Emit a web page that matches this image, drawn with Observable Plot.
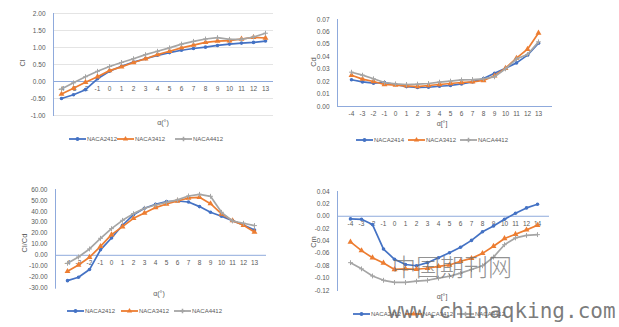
<!DOCTYPE html>
<html><head><meta charset="utf-8">
<script src="https://cdn.jsdelivr.net/npm/d3@7"></script>
<script src="https://cdn.jsdelivr.net/npm/@observablehq/plot@0.6"></script>
<style>
body{margin:0;background:#fff;}
#root{position:relative;width:619px;height:327px;overflow:hidden;background:#fff;font-family:"Liberation Sans",Arial,sans-serif;color:#595959;}
.abs{position:absolute;white-space:nowrap;}
.ytitle{position:absolute;font-size:7.5px;color:#595959;transform:translate(-50%,-50%) rotate(-90deg);white-space:nowrap;}
.xtitle{position:absolute;font-size:7px;color:#595959;transform:translate(-50%,-50%);white-space:nowrap;}
.leg{position:absolute;display:flex;align-items:center;font-size:6px;color:#595959;transform:translateY(-50%);}
.leg svg{display:block;margin-right:1px;}
</style>
</head><body><div id="root"></div>
<script>
// ---- data ----
const alpha = [-4,-3,-2,-1,0,1,2,3,4,5,6,7,8,9,10,11,12,13];
const alphaLabelsCm = ["-4","-3","-2","-1","0","1","2","3","4","5","6","7","8","9","10","11","12","14"];
const namesA = ["NACA2412","NACA3412","NACA4412"];
const namesCd = ["NACA2414","NACA3412","NACA4412"];

const cl2412 = [-0.50,-0.39,-0.24,0.08,0.30,0.45,0.57,0.67,0.77,0.85,0.92,0.97,1.01,1.06,1.10,1.13,1.15,1.19];
const cl3412 = [-0.37,-0.20,-0.02,0.14,0.32,0.43,0.56,0.67,0.79,0.89,0.99,1.07,1.15,1.19,1.20,1.25,1.30,1.28];
const cl4412 = [-0.22,-0.04,0.14,0.30,0.44,0.56,0.67,0.79,0.89,0.99,1.10,1.18,1.25,1.29,1.24,1.24,1.31,1.42];

const cd2414 = [0.0215,0.0198,0.0188,0.0193,0.0177,0.0160,0.0153,0.0155,0.0163,0.0169,0.0182,0.0198,0.0225,0.0268,0.0308,0.0351,0.0413,0.0509];
const cd3412 = [0.0252,0.0220,0.0201,0.0177,0.0172,0.0166,0.0160,0.0169,0.0177,0.0185,0.0193,0.0198,0.0209,0.0247,0.0308,0.0389,0.0461,0.0592];
const cd4412 = [0.0276,0.0252,0.0223,0.0193,0.0182,0.0177,0.0180,0.0185,0.0196,0.0204,0.0214,0.0217,0.0223,0.0239,0.0303,0.0383,0.0418,0.0520];

const ld2412 = [-23.1,-20.0,-13.0,5.0,15.8,27.4,37.0,42.9,46.5,49.0,49.5,48.6,44.4,39.2,35.6,31.6,27.7,23.1];
const ld3412 = [-14.6,-8.8,-1.8,8.2,18.8,26.1,33.7,38.6,43.5,46.8,49.5,52.3,52.9,47.1,37.7,31.6,27.4,21.3];
const ld4412 = [-7.3,-1.5,5.8,15.5,24.3,31.9,38.0,42.9,45.9,48.3,50.5,54.1,55.6,53.8,39.2,31.3,29.2,27.1];

const cm2412 = [-0.0043,-0.0049,-0.0135,-0.053,-0.0695,-0.078,-0.080,-0.075,-0.067,-0.059,-0.050,-0.039,-0.025,-0.0156,-0.0049,0.0049,0.0135,0.0194];
const cm3412 = [-0.0415,-0.0555,-0.067,-0.0755,-0.086,-0.085,-0.0857,-0.084,-0.081,-0.0787,-0.0728,-0.068,-0.060,-0.0485,-0.036,-0.029,-0.022,-0.0146];
const cm4412 = [-0.075,-0.085,-0.0965,-0.1035,-0.107,-0.107,-0.105,-0.1035,-0.100,-0.097,-0.092,-0.086,-0.080,-0.066,-0.046,-0.035,-0.031,-0.0297];

const ticksCl = [-1,-0.5,0,0.5,1,1.5,2];
const ticksCd = [0,0.01,0.02,0.03,0.04,0.05,0.06,0.07];
const ticksLd = [-30,-20,-10,0,10,20,30,40,50,60];
const ticksCm = [-0.12,-0.1,-0.08,-0.06,-0.04,-0.02,0,0.02,0.04];

// ---- styles ----
const colors = ["#4472C4","#ED7D31","#A5A5A5"];
const symbols = ["circle","triangle","plus"];
const axisBlue = "#8FAADC";
const root = document.getElementById("root");

function addDiv(cls, text, style) {
  const d = document.createElement("div");
  d.className = cls; d.textContent = text;
  Object.assign(d.style, style);
  root.appendChild(d);
  return d;
}

function panel(cfg) {
  const marks = [];
  if (cfg.grid) marks.push(Plot.gridY(cfg.yTicks, {stroke:"#d9d9d9", strokeOpacity:1, strokeWidth:0.7}));
  marks.push(Plot.frame({anchor:"left", stroke:axisBlue, strokeWidth:1}));
  marks.push(Plot.ruleY([0], {stroke:axisBlue, strokeWidth:1}));
  marks.push(Plot.axisY({ticks:cfg.yTicks, tickFormat:d => d.toFixed(2), tickSize:0, tickPadding:8, fontSize:6.5, fill:"#595959", label:null}));
  const labels = cfg.xLabels || alpha.map(String);
  marks.push(Plot.text(alpha, {x:d => d, y:() => 0, dy:7.5, text:(d,i) => labels[i], fontSize:6.5, fill:"#595959"}));
  cfg.series.forEach((vals, i) => {
    const d = vals.map((v, j) => ({a:alpha[j], v}));
    marks.push(Plot.line(d, {x:"a", y:"v", stroke:colors[i], strokeWidth:1.7}));
    if (symbols[i] === "plus")
      marks.push(Plot.dot(d, {x:"a", y:"v", symbol:"plus", r:1.7, stroke:colors[i], strokeWidth:1}));
    else
      marks.push(Plot.dot(d, {x:"a", y:"v", symbol:symbols[i], r:symbols[i]==="triangle"?2.2:1.8, fill:colors[i], stroke:"none"}));
  });
  const svg = Plot.plot({
    width:cfg.w, height:cfg.h,
    marginLeft:cfg.ml, marginRight:cfg.mr, marginTop:cfg.mt, marginBottom:cfg.mb,
    x:{type:"point", domain:alpha, padding:0.5, axis:null},
    y:{domain:cfg.yDomain},
    style:{background:"transparent", fontFamily:"'Liberation Sans', Arial, sans-serif", overflow:"visible"},
    marks
  });
  svg.style.position = "absolute";
  svg.style.left = cfg.left + "px";
  svg.style.top = cfg.top + "px";
  root.appendChild(svg);

  addDiv("ytitle", cfg.yTitle, {left:cfg.yt[0]+"px", top:cfg.yt[1]+"px"});
  addDiv("xtitle", cfg.xTitle, {left:cfg.xt[0]+"px", top:cfg.xt[1]+"px"});
  cfg.names.forEach((name, i) => {
    const leg = document.createElement("div");
    leg.className = "leg";
    leg.style.left = cfg.legX[i] + "px";
    leg.style.top = cfg.legY + "px";
    const s = d3.create("svg").attr("width", 17).attr("height", 6);
    s.append("line").attr("x1",0).attr("x2",17).attr("y1",3).attr("y2",3).attr("stroke",colors[i]).attr("stroke-width",1.8);
    const sym = {circle:d3.symbolCircle, triangle:d3.symbolTriangle, plus:d3.symbolCross}[symbols[i]];
    const p = s.append("path").attr("transform","translate(8.5,3)")
      .attr("d", d3.symbol(sym, symbols[i]==="plus" ? 12 : 12)());
    p.attr("fill", colors[i]);
    leg.appendChild(s.node());
    const t = document.createElement("span"); t.textContent = name;
    leg.appendChild(t);
    root.appendChild(leg);
  });
}

panel({left:0, top:0, w:310, h:160, ml:53, mr:37, mt:13, mb:45,
  yDomain:[-1,2], yTicks:ticksCl, grid:true, series:[cl2412,cl3412,cl4412], names:namesA,
  yTitle:"Cl", yt:[22,63], xTitle:"α(°)", xt:[163,122], legX:[69,117,175], legY:139});

panel({left:310, top:0, w:309, h:160, ml:27, mr:67, mt:19, mb:54,
  yDomain:[0,0.07], yTicks:ticksCd, grid:false, series:[cd2414,cd3412,cd4412], names:namesCd,
  yTitle:"Cd", yt:[313,62], xTitle:"α[°]", xt:[442,123], legX:[356,408,460], legY:140});

panel({left:0, top:160, w:310, h:167, ml:55, mr:44, mt:29, mb:39.3,
  yDomain:[-30,60], yTicks:ticksLd, grid:false, series:[ld2412,ld3412,ld4412], names:namesA,
  yTitle:"Cl/Cd", yt:[24,243], xTitle:"α(°)", xt:[159,293], legX:[67,121,174], legY:311});

panel({left:310, top:160, w:309, h:167, ml:27, mr:70, mt:31, mb:37,
  yDomain:[-0.12,0.04], yTicks:ticksCm, grid:false, series:[cm2412,cm3412,cm4412], names:namesA,
  xLabels:alphaLabelsCm,
  yTitle:"Cm", yt:[313,242], xTitle:"α[°]", xt:[442,296], legX:[353,405,457], legY:314});

// watermark
addDiv("abs", "中国期刊网", {left:"392px", top:"252px", fontSize:"24px", lineHeight:"28px",
  fontFamily:"'Noto Sans CJK SC', sans-serif", fontWeight:"300", color:"rgba(110,110,110,0.75)"});
addDiv("abs", "www.chinaqking.com", {left:"388px", top:"299px", fontSize:"21px", lineHeight:"24px",
  fontFamily:"'DejaVu Sans Mono', monospace", color:"rgba(100,100,100,0.85)"});
</script>
</body></html>
